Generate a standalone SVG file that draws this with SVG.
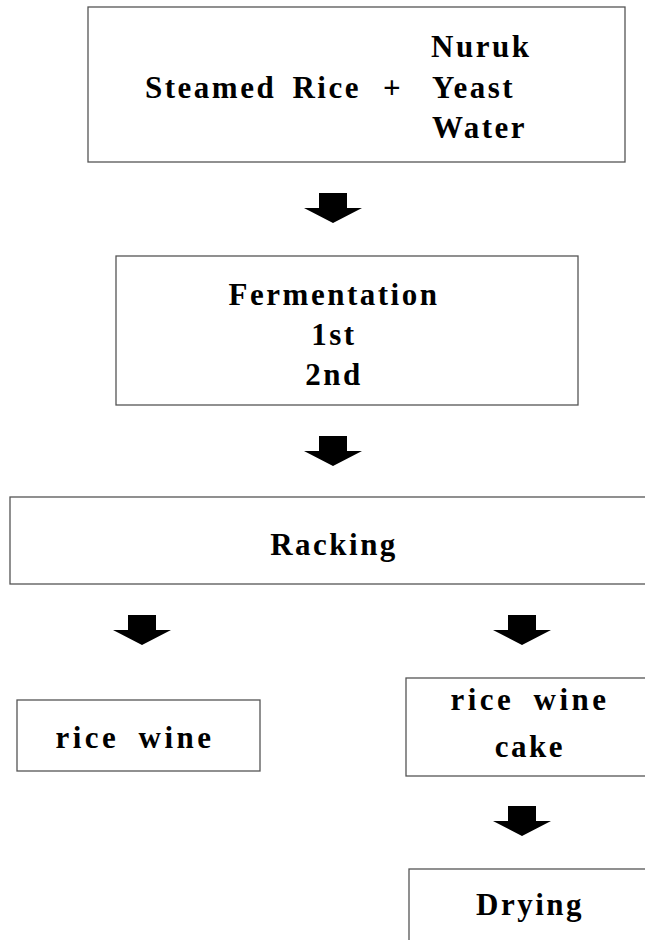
<svg xmlns="http://www.w3.org/2000/svg" width="645" height="940" viewBox="0 0 645 940">
<style>
.box{fill:#fff;stroke:#555;stroke-width:1.3}
.t{font-family:"Liberation Serif","Times New Roman",serif;font-weight:bold;font-size:31px;letter-spacing:2.5px;word-spacing:6px;fill:#000}
.c{text-anchor:middle}
.w{word-spacing:8px;letter-spacing:3.5px}
.arr{fill:#000}
</style>
<defs>
<path id="arrow" d="M-14,0 H14 V15 H29 L0,30 L-29,15 H-14 Z"/>
</defs>
<rect x="0" y="0" width="645" height="940" fill="#fff"/>
<g id="node-ingredients">
<rect class="box" x="88" y="7" width="537" height="155"/>
<text class="t" x="431" y="57">Nuruk</text>
<text class="t" x="145" y="98">Steamed Rice</text>
<text class="t" x="383" y="98">+</text>
<text class="t" x="432" y="98">Yeast</text>
<text class="t" x="432" y="138">Water</text>
</g>
<g id="node-fermentation">
<rect class="box" x="116" y="256" width="462" height="149"/>
<text class="t c" x="334" y="305">Fermentation</text>
<text class="t c" x="334" y="345">1st</text>
<text class="t c" x="334" y="385">2nd</text>
</g>
<g id="node-racking">
<rect class="box" x="10" y="497" width="650" height="87"/>
<text class="t c" x="334" y="555">Racking</text>
</g>
<g id="node-ricewine">
<rect class="box" x="17" y="700" width="243" height="71"/>
<text class="t c w" x="135" y="748">rice wine</text>
</g>
<g id="node-ricewinecake">
<rect class="box" x="406" y="678" width="250" height="98"/>
<text class="t c w" x="530" y="710">rice wine</text>
<text class="t c" x="530" y="757">cake</text>
</g>
<g id="node-drying">
<rect class="box" x="409" y="869" width="250" height="90"/>
<text class="t c" x="530" y="915">Drying</text>
</g>
<g id="connectors">
<use class="arr" href="#arrow" x="333" y="193"/>
<use class="arr" href="#arrow" x="333" y="436"/>
<use class="arr" href="#arrow" x="142" y="615"/>
<use class="arr" href="#arrow" x="522" y="615"/>
<use class="arr" href="#arrow" x="522" y="806"/>
</g>
</svg>
